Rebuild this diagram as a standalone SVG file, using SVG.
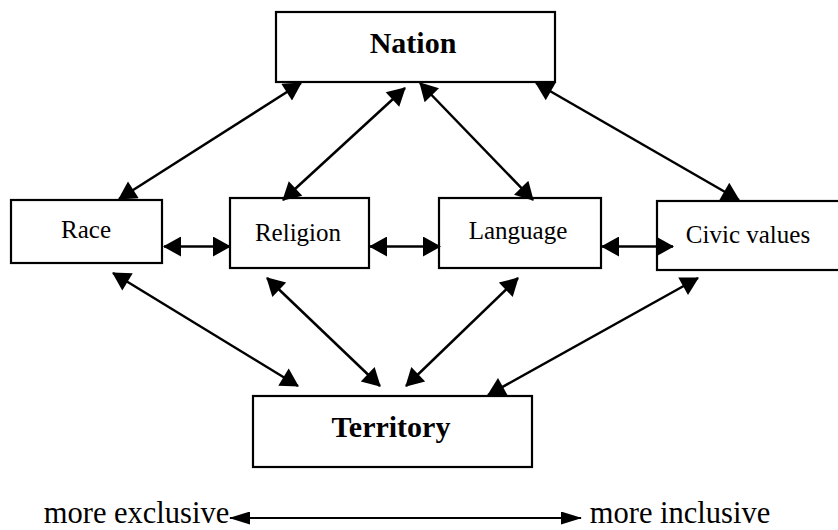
<svg xmlns="http://www.w3.org/2000/svg" width="838" height="530" viewBox="0 0 838 530">
<style>
.box{fill:#fff;stroke:#000;stroke-width:2.2}
text{font-family:'Liberation Serif','Times New Roman',Times,'DejaVu Serif',serif;fill:#000;text-anchor:middle}
.big{font-size:30px;font-weight:bold}
.mid{font-size:25px}
.lab{font-size:30.5px}
.c line{stroke:#000;stroke-width:2.5;marker-start:url(#ah);marker-end:url(#ah)}
.c line.s{stroke-width:2;marker-start:url(#sh);marker-end:url(#sh)}
</style>
<defs>
<marker id="ah" markerUnits="userSpaceOnUse" markerWidth="20" markerHeight="20" viewBox="0 0 18 20" refX="17" refY="10" orient="auto-start-reverse"><path d="M0,0 L18,10 L0,20 z" fill="#000"/></marker>
<marker id="sh" markerUnits="userSpaceOnUse" markerWidth="21" markerHeight="13" viewBox="0 0 21 13" refX="20" refY="6.5" orient="auto-start-reverse"><path d="M0,0 L21,6.5 L0,13 z" fill="#000"/></marker>
</defs>
<rect width="838" height="530" fill="#fff"/>
<g id="nation"><rect class="box" x="276" y="12" width="279" height="70"/><text class="big" x="413" y="53" font-family="Liberation Serif, serif">Nation</text></g>
<g id="race"><rect class="box" x="11" y="200" width="151" height="63"/><text class="mid" x="86" y="238" font-family="Liberation Serif, serif">Race</text></g>
<g id="religion"><rect class="box" x="230" y="198" width="139" height="70"/><text class="mid" x="298" y="241" font-family="Liberation Serif, serif">Religion</text></g>
<g id="language"><rect class="box" x="439" y="198" width="162" height="70"/><text class="mid" x="518" y="239" font-family="Liberation Serif, serif">Language</text></g>
<g id="civic"><rect class="box" x="657" y="201" width="190" height="69"/><text class="mid" x="748" y="243" font-family="Liberation Serif, serif">Civic values</text></g>
<g id="territory"><rect class="box" x="253" y="396" width="279" height="71"/><text class="big" x="391" y="437" font-family="Liberation Serif, serif">Territory</text></g>
<g id="connectors" class="c">
<line x1="119" y1="199" x2="301" y2="83"/>
<line x1="283" y1="200" x2="405" y2="88"/>
<line x1="533" y1="200" x2="420" y2="83"/>
<line x1="739" y1="200" x2="536" y2="83"/>
<line x1="164" y1="246.5" x2="230" y2="246.5"/>
<line x1="370" y1="246.5" x2="440" y2="246.5"/>
<line x1="602" y1="246.5" x2="673" y2="246.5"/>
<line x1="113" y1="273" x2="298" y2="386"/>
<line x1="267" y1="278" x2="380" y2="386"/>
<line x1="518" y1="278" x2="406" y2="386"/>
<line x1="698" y1="278" x2="488" y2="395"/>
<line class="s" x1="230" y1="518" x2="581" y2="518"/>
</g>
<g id="scale">
<text class="lab" x="136.5" y="523" font-family="Liberation Serif, serif">more exclusive</text>
<text class="lab" x="680" y="523" font-family="Liberation Serif, serif">more inclusive</text>
</g>
</svg>
